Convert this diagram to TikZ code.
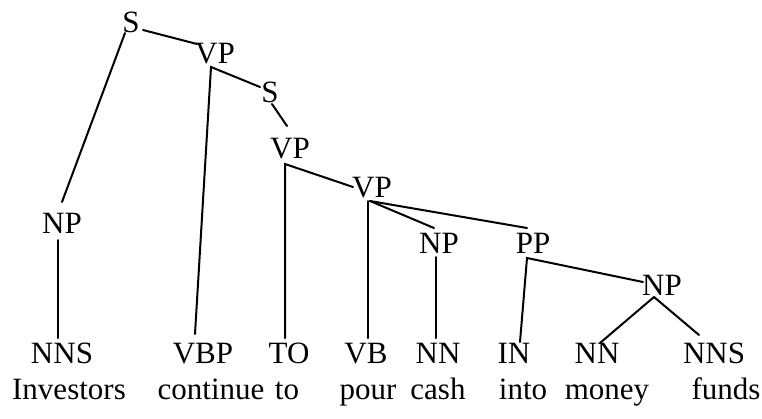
\documentclass[tikz,border=0pt]{standalone}
\usepackage{fontspec}
\setmainfont{Liberation Serif}
\begin{document}
\begin{tikzpicture}[x=1pt,y=-1pt,
  lbl/.style={inner sep=0pt,anchor=base,font=\fontsize{31}{37}\selectfont},
  edge/.style={line width=2pt,line cap=round}]
\useasboundingbox (0,0) rectangle (762,418);

% phrase nodes
\node[lbl] (s1)  at (131,32)  {S};
\node[lbl] (vp1) at (215,63)  {VP};
\node[lbl] (s2)  at (270,102) {S};
\node[lbl] (vp2) at (290,158) {VP};
\node[lbl] (vp3) at (372,197) {VP};
\node[lbl] (npl) at (62,233)  {NP};
\node[lbl] (npc) at (439,253) {NP};
\node[lbl] (pp)  at (533,253) {PP};
\node[lbl] (npm) at (662,295) {NP};

% part-of-speech tags
\node[lbl] (t1) at (62,363)  {NNS};
\node[lbl] (t2) at (203,363) {VBP};
\node[lbl] (t3) at (289,363) {TO};
\node[lbl] (t4) at (366,363) {VB};
\node[lbl] (t5) at (438,363) {NN};
\node[lbl] (t6) at (514,363) {IN};
\node[lbl] (t7) at (597,363) {NN};
\node[lbl] (t8) at (714,363) {NNS};

% words
\node[lbl] (w1) at (69,399)  {Investors};
\node[lbl] (w2) at (211,399) {continue};
\node[lbl] (w3) at (287,399) {to};
\node[lbl] (w4) at (368,399) {pour};
\node[lbl] (w5) at (438,399) {cash};
\node[lbl] (w6) at (523,399) {into};
\node[lbl] (w7) at (607,399) {money};
\node[lbl] (w8) at (726,399) {funds};

% tree branches
\draw[edge] ([shift={(-6,1)}]s1.base)   -- ([shift={(0,-31)}]npl.base);
\draw[edge] ([shift={(12,-2)}]s1.base)  -- ([shift={(-18,-19)}]vp1.base);
\draw[edge] ([shift={(-8,-29)}]t2.base) -- ([shift={(-4,4)}]vp1.base)
            -- ([shift={(-10,-15)}]s2.base);
\draw[edge] ([shift={(2,2)}]s2.base)    -- ([shift={(-3,-32)}]vp2.base);
\draw[edge] ([shift={(-4,-25)}]t3.base) -- ([shift={(-5,6)}]vp2.base)
            -- ([shift={(-19,-10)}]vp3.base);
\draw[edge] ([shift={(-4,4)}]vp3.base)  -- ([shift={(2,-25)}]t4.base);
\draw[edge] ([shift={(-2,4)}]vp3.base)  -- ([shift={(-5,-25)}]npc.base);
\draw[edge] ([shift={(-2,4)}]vp3.base)  -- ([shift={(-6,-25)}]pp.base);
\draw[edge] ([shift={(-4,7)}]npl.base)  -- ([shift={(-4,-25)}]t1.base);
\draw[edge] ([shift={(-3,4)}]npc.base)  -- ([shift={(-2,-25)}]t5.base);
\draw[edge] ([shift={(6,-21)}]t6.base)  -- ([shift={(-6,5)}]pp.base)
            -- ([shift={(-19,-13)}]npm.base);
\draw[edge] ([shift={(-8,2)}]npm.base)  -- ([shift={(3,-20)}]t7.base);
\draw[edge] ([shift={(-8,2)}]npm.base)  -- ([shift={(-15,-28)}]t8.base);
\end{tikzpicture}
\end{document}
